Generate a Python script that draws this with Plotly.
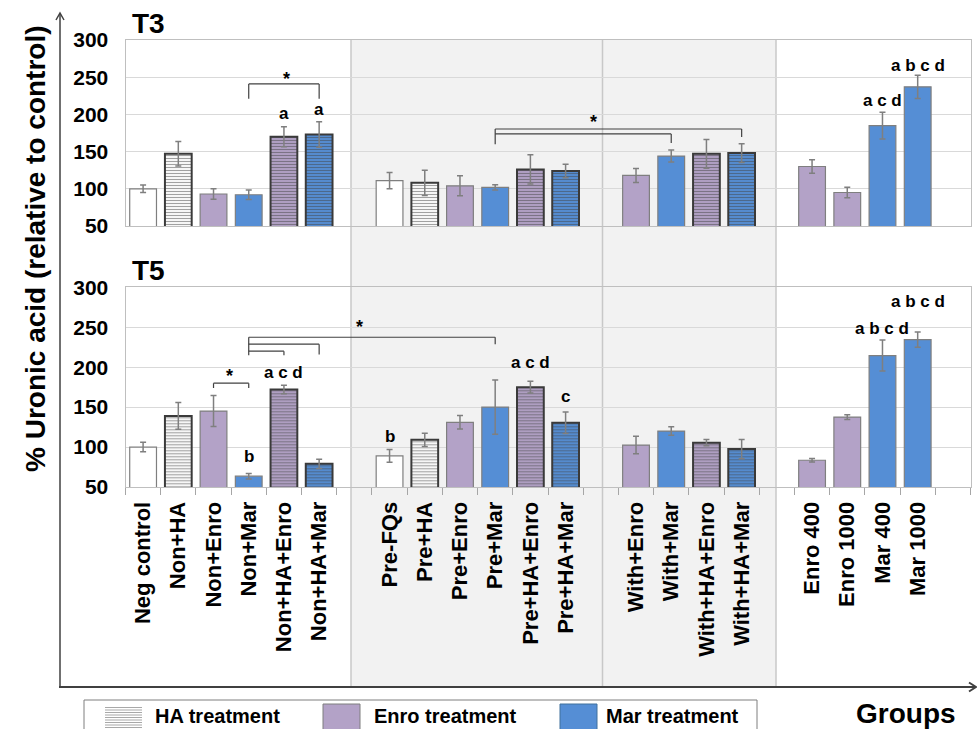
import plotly.graph_objects as go

W, H = 977, 729


def px(x):
    return x / W


def py(y):
    return 1 - y / H


# ---------------- data ----------------
# slot order along the x axis ("" = empty spacer slot)
categories = ["Neg control", "Non+HA", "Non+Enro", "Non+Mar", "Non+HA+Enro", "Non+HA+Mar", "",
              "Pre-FQs", "Pre+HA", "Pre+Enro", "Pre+Mar", "Pre+HA+Enro", "Pre+HA+Mar", "",
              "With+Enro", "With+Mar", "With+HA+Enro", "With+HA+Mar", "",
              "Enro 400", "Enro 1000", "Mar 400", "Mar 1000", ""]

groups = ["Neg control", "Non+HA", "Non+Enro", "Non+Mar", "Non+HA+Enro", "Non+HA+Mar",
          "Pre-FQs", "Pre+HA", "Pre+Enro", "Pre+Mar", "Pre+HA+Enro", "Pre+HA+Mar",
          "With+Enro", "With+Mar", "With+HA+Enro", "With+HA+Mar",
          "Enro 400", "Enro 1000", "Mar 400", "Mar 1000"]

treatment = ["none", "HA", "Enro", "Mar", "HA+Enro", "HA+Mar",
             "none", "HA", "Enro", "Mar", "HA+Enro", "HA+Mar",
             "Enro", "Mar", "HA+Enro", "HA+Mar",
             "Enro", "Enro", "Mar", "Mar"]

t3_mean = [100, 147, 93, 92, 170, 173,
           111, 108, 104, 102, 126, 124,
           118, 144, 147, 148,
           130, 95, 185, 237]
t3_err = [5, 16.5, 7, 6.5, 13.5, 17,
          11, 17, 13.5, 3.6, 19.7, 9,
          9.4, 8, 19.3, 12.5,
          9, 7, 18, 15.5]

t5_mean = [100, 139, 145, 63.5, 172, 79,
           89, 109, 131, 150, 175, 130.5,
           102.5, 120, 105.5, 97.5,
           83.5, 137.5, 214.5, 234.5]
t5_err = [6, 16.7, 19.4, 3.5, 5.4, 5.8,
          8, 8.4, 8.5, 34, 7.3, 13.4,
          11, 5.3, 4, 12,
          2.3, 3.1, 19.4, 9.4]

y_ticks = [50, 100, 150, 200, 250, 300]

# significance letters: (group, label, y)
t3_letters = [("Non+HA+Enro", "a", 201), ("Non+HA+Mar", "a", 207),
              ("Mar 400", "a c d", 219), ("Mar 1000", "a b c d", 266)]
t5_letters = [("Non+Mar", "b", 88), ("Non+HA+Enro", "a c d", 193),
              ("Pre-FQs", "b", 113), ("Pre+HA+Enro", "a c d", 206),
              ("Pre+HA+Mar", "c", 163), ("Mar 400", "a b c d", 248),
              ("Mar 1000", "a b c d", 282)]

# ---------------- helpers ----------------
slot = {name: i for i, name in enumerate(categories) if name}
x_pos = [slot[g] for g in groups]
n_slots = len(categories)
boundaries = [i - 0.5 for i in range(n_slots + 1)]

PURPLE = "#B3A2C7"
BLUE = "#558ED5"
FILL = {"none": "white", "HA": "white", "Enro": PURPLE, "Mar": BLUE,
        "HA+Enro": PURPLE, "HA+Mar": BLUE}
FONT = "Liberation Sans, Arial, sans-serif"


def marker_for(kinds):
    colors = [FILL[k] for k in kinds]
    has_ha = [k.startswith("HA") for k in kinds]
    return dict(
        color=colors,
        line=dict(color=["#3A3A3A" if h else "#7F7F7F" for h in has_ha],
                  width=[2 if h else 1.2 for h in has_ha]),
        pattern=dict(shape=["-" if h else "" for h in has_ha],
                     fgcolor=["#9A9A9A" if k == "HA" else "#505050" for k in kinds],
                     size=3, solidity=0.4, fillmode="overlay"),
    )


def err(vals):
    return dict(type="data", array=vals, visible=True, color="#7F7F7F",
                thickness=1.5, width=3)


fig = go.Figure()
fig.add_trace(go.Bar(x=x_pos, y=t3_mean, error_y=err(t3_err), marker=marker_for(treatment),
                     xaxis="x", yaxis="y", showlegend=False, hoverinfo="skip"))
fig.add_trace(go.Bar(x=x_pos, y=t5_mean, error_y=err(t5_err), marker=marker_for(treatment),
                     xaxis="x2", yaxis="y2", showlegend=False, hoverinfo="skip"))

x_dom = [px(125.5), px(970.5)]
x_range = [-0.5, n_slots - 0.5]
yax = dict(range=[50, 300], tickvals=y_ticks, showgrid=True, gridcolor="#D9D9D9", gridwidth=1,
           showline=True, linecolor="#BFBFBF", linewidth=1, mirror=True, zeroline=False,
           ticks="", ticklabelstandoff=12,
           tickfont=dict(family=FONT, size=21, color="black", weight="bold"))
xax = dict(range=x_range, showline=True, linecolor="#BFBFBF", linewidth=1, mirror=True,
           showgrid=False, zeroline=False)

fig.update_layout(
    width=W, height=H, margin=dict(l=0, r=0, t=0, b=0, autoexpand=False),
    paper_bgcolor="white", plot_bgcolor="rgba(0,0,0,0)",
    bargap=0.24, showlegend=False,
    xaxis=dict(xax, domain=x_dom, anchor="y", showticklabels=False, ticks=""),
    yaxis=dict(yax, domain=[py(226), py(40)], anchor="x"),
    xaxis2=dict(xax, domain=x_dom, anchor="y2", ticks="", tickmode="array",
                tickvals=x_pos, ticktext=groups, tickangle=-90, ticklabelstandoff=5,
                tickfont=dict(family=FONT, size=22, color="black", weight="bold"),
                minor=dict(tickmode="array", tickvals=boundaries, ticks="outside", ticklen=7,
                           tickcolor="#A6A6A6", tickwidth=1, showgrid=False)),
    yaxis2=dict(yax, domain=[py(487), py(287.3)], anchor="x2"),
)

shapes = []
# shaded middle region and separators
shapes.append(dict(type="rect", xref="paper", yref="paper", x0=px(351), x1=px(776),
                   y0=py(687), y1=py(40), fillcolor="#F2F2F2", line=dict(width=0), layer="below"))
for xv in (351, 602.5, 776):
    shapes.append(dict(type="line", xref="paper", yref="paper", x0=px(xv), x1=px(xv),
                       y0=py(687), y1=py(40), line=dict(color="#C8C8C8", width=1.5), layer="below"))


def bracket(xr, yr, pts):
    for (x0, y0), (x1, y1) in zip(pts[:-1], pts[1:]):
        shapes.append(dict(type="line", xref=xr, yref=yr, x0=x0, y0=y0, x1=x1, y1=y1,
                           line=dict(color="#404040", width=1.2)))


s = slot
# T3 brackets
bracket("x", "y", [(s["Non+Mar"], 221), (s["Non+Mar"], 241), (s["Non+HA+Mar"], 241), (s["Non+HA+Mar"], 221)])
bracket("x", "y", [(s["Pre+Mar"], 160), (s["Pre+Mar"], 180.4), (s["With+HA+Mar"], 180.4), (s["With+HA+Mar"], 169.6)])
bracket("x", "y", [(s["Pre+Mar"], 173.7), (s["With+Mar"], 173.7), (s["With+Mar"], 161.6)])
# T5 brackets
bracket("x2", "y2", [(s["Non+Enro"], 174), (s["Non+Enro"], 180), (s["Non+Mar"], 180), (s["Non+Mar"], 174)])
bracket("x2", "y2", [(s["Non+Mar"], 215), (s["Non+Mar"], 237.5), (s["Pre+Mar"], 237.5), (s["Pre+Mar"], 228.8)])
bracket("x2", "y2", [(s["Non+Mar"], 228.8), (s["Non+HA+Mar"], 228.8), (s["Non+HA+Mar"], 216)])
bracket("x2", "y2", [(s["Non+Mar"], 220), (s["Non+HA+Enro"], 220), (s["Non+HA+Enro"], 215)])

# axis arrows (decorative frame)
shapes.append(dict(type="line", xref="paper", yref="paper", x0=px(60), x1=px(60),
                   y0=py(687), y1=py(14), line=dict(color="#404040", width=1.5)))
shapes.append(dict(type="path", xref="paper", yref="paper",
                   path=f"M{px(56)},{py(20)} L{px(60)},{py(13)} L{px(64)},{py(20)}",
                   line=dict(color="#404040", width=1.5)))
shapes.append(dict(type="line", xref="paper", yref="paper", x0=px(59), x1=px(975),
                   y0=py(687), y1=py(687), line=dict(color="#404040", width=2)))
shapes.append(dict(type="path", xref="paper", yref="paper",
                   path=f"M{px(969)},{py(682.5)} L{px(976)},{py(687)} L{px(969)},{py(691.5)}",
                   line=dict(color="#404040", width=2)))

# legend box and swatches
shapes.append(dict(type="rect", xref="paper", yref="paper", x0=px(84), x1=px(757),
                   y0=py(745), y1=py(700), line=dict(color="#7F7F7F", width=1), fillcolor="white"))
ha_path = ""
yy = 707.5
while yy < 729:
    ha_path += f"M{px(105)},{py(yy)} L{px(142)},{py(yy)} "
    yy += 2.5
shapes.append(dict(type="path", xref="paper", yref="paper", path=ha_path,
                   line=dict(color="#A8A8A8", width=1)))
shapes.append(dict(type="rect", xref="paper", yref="paper", x0=px(323), x1=px(360),
                   y0=py(735), y1=py(704), fillcolor=PURPLE, line=dict(color="#7F7F7F", width=1)))
shapes.append(dict(type="rect", xref="paper", yref="paper", x0=px(560), x1=px(597),
                   y0=py(735), y1=py(704), fillcolor=BLUE, line=dict(color="#41719C", width=1)))

ann = []


def bold(size):
    return dict(family=FONT, size=size, color="black", weight="bold")


def note(x, y, xr, yr, text, size, **kw):
    d = dict(x=x, y=y, xref=xr, yref=yr, text=text, showarrow=False, font=bold(size),
             xanchor="center", yanchor="middle")
    d.update(kw)
    return d


for g, t, y in t3_letters:
    ann.append(note(s[g], y, "x", "y", t, 17))
for g, t, y in t5_letters:
    ann.append(note(s[g], y, "x2", "y2", t, 17))
for xr, yr, xv, yv in [("x", "y", 4.08, 253), ("x", "y", 12.8, 195),
                       ("x2", "y2", 2.45, 194.5), ("x2", "y2", 6.16, 255.7)]:
    ann.append(note(xv, yv, xr, yr, "*", 18, yshift=-4))

ann += [
    note(px(148), py(24), "paper", "paper", "T3", 28),
    note(px(148), py(270), "paper", "paper", "T5", 28),
    note(px(35), py(249), "paper", "paper", "% Uronic acid (relative to control)", 28, textangle=-90),
    note(px(906), py(713), "paper", "paper", "Groups", 28),
    note(px(153), py(716), "paper", "paper", "HA treatment", 20, xanchor="left"),
    note(px(372), py(716), "paper", "paper", "Enro treatment", 20, xanchor="left"),
    note(px(604), py(716), "paper", "paper", "Mar treatment", 20, xanchor="left"),
]

fig.update_layout(shapes=shapes, annotations=ann)

fig.write_html("out.html", config={"displayModeBar": False},
               post_script="document.body.style.margin='0';")
